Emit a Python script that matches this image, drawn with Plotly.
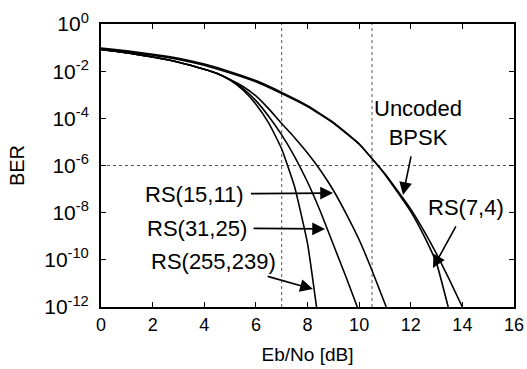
import plotly.graph_objects as go

# ---- data (Eb/No in dB, BER given as log10 exponent) ----
bpsk_x = [0, 1, 2, 3, 4, 5, 6, 7, 8, 9, 10, 11, 12, 12.5, 13, 13.5, 14]
bpsk_e = [-1.05, -1.18, -1.32, -1.5, -1.75, -2.08, -2.45, -2.95, -3.5, -4.2, -5.1, -6.35, -7.85, -8.75, -9.75, -10.85, -12]

rs74_x = [0, 1, 2, 3, 4, 5, 6, 7, 8, 9, 10, 11, 12, 12.5, 13, 13.45]
rs74_e = [-1.02, -1.14, -1.28, -1.45, -1.7, -2.02, -2.4, -2.9, -3.46, -4.17, -5.08, -6.38, -7.95, -8.95, -10.15, -12]

rs1511_x = [0, 1, 2, 3, 4, 4.5, 5, 5.5, 6, 6.5, 7, 7.5, 8, 8.5, 9, 9.5, 10, 10.5, 11.05]
rs1511_e = [-1.08, -1.22, -1.4, -1.62, -1.92, -2.1, -2.35, -2.65, -3.05, -3.6, -4.22, -4.82, -5.47, -6.2, -7.05, -8.05, -9.15, -10.45, -12]

rs3125_x = [0, 1, 2, 3, 4, 4.5, 5, 5.5, 6, 6.5, 7, 7.5, 8, 8.5, 9, 9.5, 9.93]
rs3125_e = [-1.08, -1.22, -1.4, -1.62, -1.92, -2.1, -2.37, -2.74, -3.25, -3.92, -4.7, -5.62, -6.7, -7.95, -9.35, -10.75, -12]

rs255_x = [0, 1, 2, 3, 4, 4.5, 5, 5.5, 6, 6.5, 7, 7.5, 8, 8.35]
rs255_e = [-1.08, -1.22, -1.4, -1.62, -1.92, -2.1, -2.38, -2.8, -3.4, -4.2, -5.3, -6.9, -9.3, -12]

ref_x = [7, 10.5]
ref_y = [1e-6]

x_ticks = [0, 2, 4, 6, 8, 10, 12, 14, 16]
y_exps = [0, -2, -4, -6, -8, -10, -12]
y_ticktext = ["10<sup>%d</sup>" % e for e in y_exps]

# labels: (text, text_x, text_logy, tip_x, tip_logy)
labels = [
    ("Uncoded<br>BPSK", 12.28, -4.2, 11.70, -7.25),
    ("RS(7,4)", 14.14, -7.80, 12.86, -10.35),
    ("RS(15,11)", 3.64, -7.21, 8.99, -7.17),
    ("RS(31,25)", 3.72, -8.65, 8.68, -8.69),
    ("RS(255,239)", 4.34, -10.05, 8.21, -11.24),
]

FONT = "Liberation Sans, Arial, sans-serif"

fig = go.Figure()

# reference dotted lines
for rx in ref_x:
    fig.add_trace(go.Scatter(x=[rx, rx], y=[1e-12, 1], mode="lines",
                             line=dict(color="#555555", width=1, dash="dot"),
                             showlegend=False, hoverinfo="skip"))
for ry in ref_y:
    fig.add_trace(go.Scatter(x=[0, 16], y=[ry, ry], mode="lines",
                             line=dict(color="#555555", width=1, dash="dot"),
                             showlegend=False, hoverinfo="skip"))

curves = [(bpsk_x, bpsk_e, "Uncoded BPSK"), (rs74_x, rs74_e, "RS(7,4)"),
          (rs1511_x, rs1511_e, "RS(15,11)"), (rs3125_x, rs3125_e, "RS(31,25)"),
          (rs255_x, rs255_e, "RS(255,239)")]
for xs, es, name in curves:
    fig.add_trace(go.Scatter(x=xs, y=[10 ** e for e in es], mode="lines", name=name,
                             line=dict(color="black", width=1.6, shape="spline", smoothing=0.4),
                             showlegend=False))

for text, tx, ty, px, py in labels:
    fig.add_annotation(x=px, y=py, ax=tx, ay=ty, xref="x", yref="y", axref="x", ayref="y",
                       text=text, showarrow=True, arrowhead=2, arrowsize=1.6, arrowwidth=1.6,
                       arrowcolor="black", startstandoff=5,
                       font=dict(family=FONT, size=22, color="black"))

fig.update_layout(
    width=527, height=369,
    margin=dict(l=101, r=13, t=24, b=62),
    paper_bgcolor="white", plot_bgcolor="white",
    font=dict(family=FONT, color="black"),
    showlegend=False,
)
fig.update_xaxes(range=[0, 16], tickvals=x_ticks, ticktext=[str(v) for v in x_ticks],
                 showgrid=False, zeroline=False, showline=True, linecolor="black", linewidth=2,
                 mirror="ticks", ticks="inside", ticklen=5, tickcolor="black",
                 tickfont=dict(size=18, family=FONT),
                 title=dict(text="Eb/No [dB]", font=dict(size=19, family=FONT), standoff=14),
                 automargin=False)
fig.update_yaxes(type="log", range=[-12, 0], tickvals=[10 ** e for e in y_exps], ticktext=y_ticktext,
                 showgrid=False, zeroline=False, showline=True, linecolor="black", linewidth=2,
                 mirror="ticks", ticks="inside", ticklen=5, tickcolor="black",
                 tickfont=dict(size=21, family=FONT), ticklabelstandoff=6,
                 title=dict(text="BER", font=dict(size=20, family=FONT), standoff=14),
                 automargin=False)

fig.write_html("out.html")
